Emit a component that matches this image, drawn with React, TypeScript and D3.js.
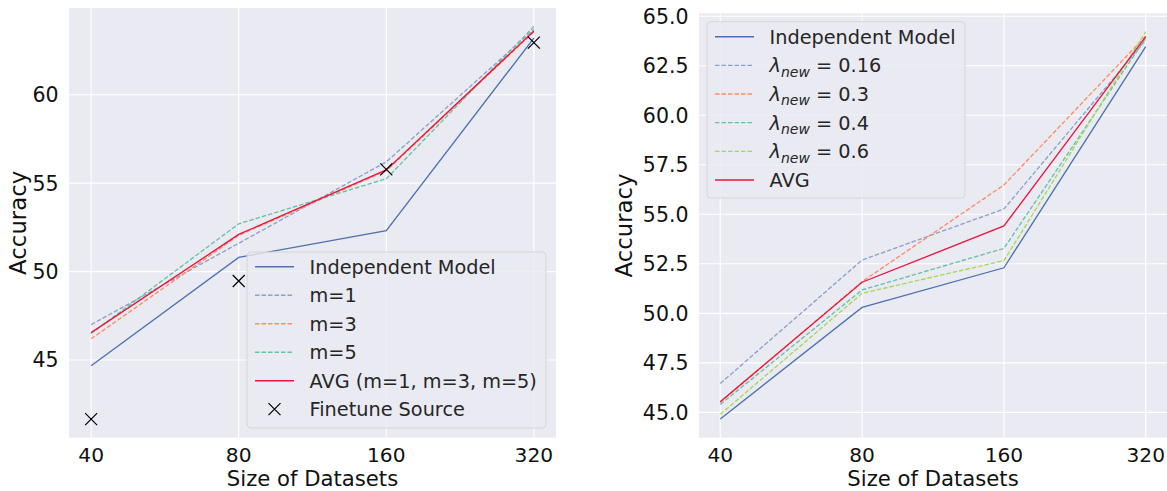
import React from "react";
import * as d3 from "d3";

const sizes = ["40", "80", "160", "320"];

// Left panel
const leftIndependent = [44.68, 50.8, 52.31, 63.2];
const leftM1 = [47.0, 51.6, 56.2, 63.7];
const leftM3 = [46.2, 52.05, 55.7, 63.55];
const leftM5 = [46.5, 52.7, 55.25, 63.85];
const leftAvg = [46.55, 52.1, 55.75, 63.6];
const leftFinetune = [41.66, 49.47, 55.78, 62.94];
const leftYTicks = [45, 50, 55, 60];

// Right panel
const rightIndependent = [44.66, 50.3, 52.3, 63.47];
const rightL016 = [46.46, 52.69, 55.27, 63.8];
const rightL03 = [45.5, 51.6, 56.48, 64.0];
const rightL04 = [45.4, 51.18, 53.28, 63.9];
const rightL06 = [44.9, 51.01, 52.66, 64.22];
const rightAvg = [45.54, 51.57, 54.41, 63.97];
const rightYTicks = [45, 47.5, 50, 52.5, 55, 57.5, 60, 62.5, 65];

const FONT = "DejaVu Sans, sans-serif";
const C_BLUE = "#4c72b0";
const C_LBLUE = "#8da0cb";
const C_ORANGE = "#fc8d62";
const C_GREEN = "#66c2a5";
const C_LIME = "#a6d854";
const C_RED = "#e8173d";
const DASH = "4.5,2";

type Series = { name: any; values: number[]; color: string; dash?: string; marker?: boolean };

function Panel({
  x0, x1, y0, y1, domain, ticks, fmt, series, legend, ylabX,
}: {
  x0: number; x1: number; y0: number; y1: number; domain: [number, number];
  ticks: number[]; fmt: (v: number) => string; series: Series[]; ylabX: number;
  legend: { x: number; y: number; w: number; h: number; rowY: number; rowStep: number };
}) {
  const x = d3.scalePoint<string>().domain(sizes).range([x0, x1]).padding(0.15);
  const y = d3.scaleLinear().domain(domain).range([y1, y0]);
  const line = d3
    .line<number>()
    .x((_, i) => x(sizes[i]) as number)
    .y((d) => y(d));
  const cy = (y0 + y1) / 2;
  return (
    <g>
      <rect x={x0} y={y0} width={x1 - x0} height={y1 - y0} fill="#eaeaf2" />
      {ticks.map((t) => (
        <line key={"h" + t} x1={x0} x2={x1} y1={y(t)} y2={y(t)} stroke="#fff" strokeWidth={1.1} />
      ))}
      {sizes.map((s) => (
        <line key={"v" + s} x1={x(s)} x2={x(s)} y1={y0} y2={y1} stroke="#fff" strokeWidth={1.1} />
      ))}
      {ticks.map((t) => (
        <text key={"yt" + t} x={x0 - 10.5} y={y(t)} dy="0.36em" textAnchor="end" fontSize={20.5} fontFamily={FONT} fill="#111">
          {fmt(t)}
        </text>
      ))}
      {sizes.map((s) => (
        <text key={"xt" + s} x={x(s)} y={461.5} textAnchor="middle" fontSize={20.2} fontFamily={FONT} fill="#111">
          {s}
        </text>
      ))}
      <text x={(x0 + x1) / 2} y={485.8} textAnchor="middle" fontSize={21.2} fontFamily={FONT} fill="#111">
        Size of Datasets
      </text>
      <text
        transform={`translate(${ylabX},${cy}) rotate(-90)`}
        textAnchor="middle"
        fontSize={22.8}
        fontFamily={FONT}
        fill="#111"
      >
        Accuracy
      </text>
      {series.map((s, k) =>
        s.marker ? (
          <g key={k}>
            {s.values.map((v, i) => {
              const px = x(sizes[i]) as number;
              const py = y(v);
              const r = 6;
              return (
                <path key={i} d={`M${px - r},${py - r}L${px + r},${py + r}M${px - r},${py + r}L${px + r},${py - r}`} stroke="#000" strokeWidth={1.2} fill="none" />
              );
            })}
          </g>
        ) : (
          <path key={k} d={line(s.values) || ""} fill="none" stroke={s.color} strokeWidth={1.35} strokeDasharray={s.dash} />
        )
      )}
      <rect x={legend.x} y={legend.y} width={legend.w} height={legend.h} rx={4} fill="#eaeaf2" fillOpacity={0.8} stroke="#d6d6d6" strokeWidth={1} />
      {series.map((s, k) => {
        const ry = legend.rowY + k * legend.rowStep;
        const lx0 = legend.x + 8;
        const lx1 = lx0 + 39;
        const mx = (lx0 + lx1) / 2;
        return (
          <g key={"lg" + k}>
            {s.marker ? (
              <path
                d={`M${mx - 6},${ry - 6}L${mx + 6},${ry + 6}M${mx - 6},${ry + 6}L${mx + 6},${ry - 6}`}
                stroke="#000"
                strokeWidth={1.2}
              />
            ) : (
              <line x1={lx0} x2={lx1} y1={ry} y2={ry} stroke={s.color} strokeWidth={1.35} strokeDasharray={s.dash} />
            )}
            <text x={lx0 + 54.5} y={ry} dy="0.36em" fontSize={19.3} fontFamily={FONT} fill="#262626">
              {s.name}
            </text>
          </g>
        );
      })}
    </g>
  );
}

const fmtInt = (v: number) => String(v);
const fmt1 = (v: number) => v.toFixed(1);

function lam(val: string) {
  return (
    <>
      <tspan fontStyle="italic">λ</tspan>
      <tspan fontStyle="italic" fontSize={14} dy={4.5}>new</tspan>
      <tspan dy={-4.5}> = {val}</tspan>
    </>
  );
}

export default function App() {
  const leftSeries: Series[] = [
    { name: "Independent Model", values: leftIndependent, color: C_BLUE },
    { name: "m=1", values: leftM1, color: C_LBLUE, dash: DASH },
    { name: "m=3", values: leftM3, color: C_ORANGE, dash: DASH },
    { name: "m=5", values: leftM5, color: C_GREEN, dash: DASH },
    { name: "AVG (m=1, m=3, m=5)", values: leftAvg, color: C_RED },
    { name: "Finetune Source", values: leftFinetune, color: "#000", marker: true },
  ];
  const rightSeries: Series[] = [
    { name: "Independent Model", values: rightIndependent, color: C_BLUE },
    { name: lam("0.16"), values: rightL016, color: C_LBLUE, dash: DASH },
    { name: lam("0.3"), values: rightL03, color: C_ORANGE, dash: DASH },
    { name: lam("0.4"), values: rightL04, color: C_GREEN, dash: DASH },
    { name: lam("0.6"), values: rightL06, color: C_LIME, dash: DASH },
    { name: "AVG", values: rightAvg, color: C_RED },
  ];
  return (
    <svg width={1167} height={491} style={{ position: "absolute", left: 0, top: 0, background: "#fff" }}>
      <Panel
        x0={69}
        x1={556}
        y0={8}
        y1={437.7}
        domain={[40.61, 64.9]}
        ticks={leftYTicks}
        fmt={fmtInt}
        series={leftSeries}
        ylabX={26}
        legend={{ x: 247, y: 252, w: 299, h: 176, rowY: 266.7, rowStep: 28.5 }}
      />
      <Panel
        x0={699}
        x1={1167}
        y0={13.3}
        y1={437.7}
        domain={[43.72, 65.15]}
        ticks={rightYTicks}
        fmt={fmt1}
        series={rightSeries}
        ylabX={632}
        legend={{ x: 707, y: 21.7, w: 258, h: 176.3, rowY: 36.7, rowStep: 28.65 }}
      />
    </svg>
  );
}
